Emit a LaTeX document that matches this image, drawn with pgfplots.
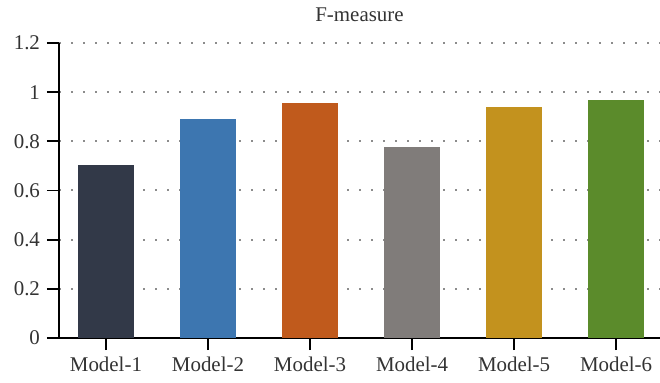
\documentclass[border=0pt]{standalone}
\usepackage{pgfplots}
\pgfplotsset{compat=1.18}
\usepackage{fontspec}
\setmainfont{Liberation Serif}
\definecolor{c1}{HTML}{323948}
\definecolor{c2}{HTML}{3D76B0}
\definecolor{c3}{HTML}{C05A1C}
\definecolor{c4}{HTML}{807C7A}
\definecolor{c5}{HTML}{C3921E}
\definecolor{c6}{HTML}{5B8B2B}
\definecolor{txt}{HTML}{333333}
\begin{document}
\begin{tikzpicture}[font=\fontsize{10.5}{12}\selectfont]
\useasboundingbox (-29.5bp,-22.5bp) rectangle (300.5bp,169bp);
\begin{axis}[
  at={(0,0)}, anchor=south west,
  scale only axis, width=300.5bp, height=147.5bp,
  xmin=-0.46, xmax=5.43, ymin=0, ymax=1.2,
  axis x line=bottom, axis y line=left,
  axis line style={-, black, line width=0.9bp},
  tick align=outside, major tick length=6bp,
  tick style={black, line width=0.9bp},
  xtick={0,1,2,3,4,5},
  xticklabels={Model-1,Model-2,Model-3,Model-4,Model-5,Model-6},
  ytick={0,0.2,0.4,0.6,0.8,1,1.2},
  yticklabels={0,0.2,0.4,0.6,0.8,1,1.2},
  ymajorgrids,
  grid style={dash pattern=on 1bp off 5bp, black!45, line width=1bp},
  ticklabel style={text=txt},
  every axis title shift=0pt,
  title={F-measure},
  title style={at={(0.5,1)}, anchor=base, yshift=10.5bp, text=txt},
  /pgf/number format/assume math mode=true,
]
\addplot[ybar, bar width=28bp, fill=c1, draw=none] coordinates {(0,0.704)};
\addplot[ybar, bar width=28bp, fill=c2, draw=none] coordinates {(1,0.892)};
\addplot[ybar, bar width=28bp, fill=c3, draw=none] coordinates {(2,0.956)};
\addplot[ybar, bar width=28bp, fill=c4, draw=none] coordinates {(3,0.776)};
\addplot[ybar, bar width=28bp, fill=c5, draw=none] coordinates {(4,0.940)};
\addplot[ybar, bar width=28bp, fill=c6, draw=none] coordinates {(5,0.968)};
\end{axis}
\end{tikzpicture}
\end{document}
